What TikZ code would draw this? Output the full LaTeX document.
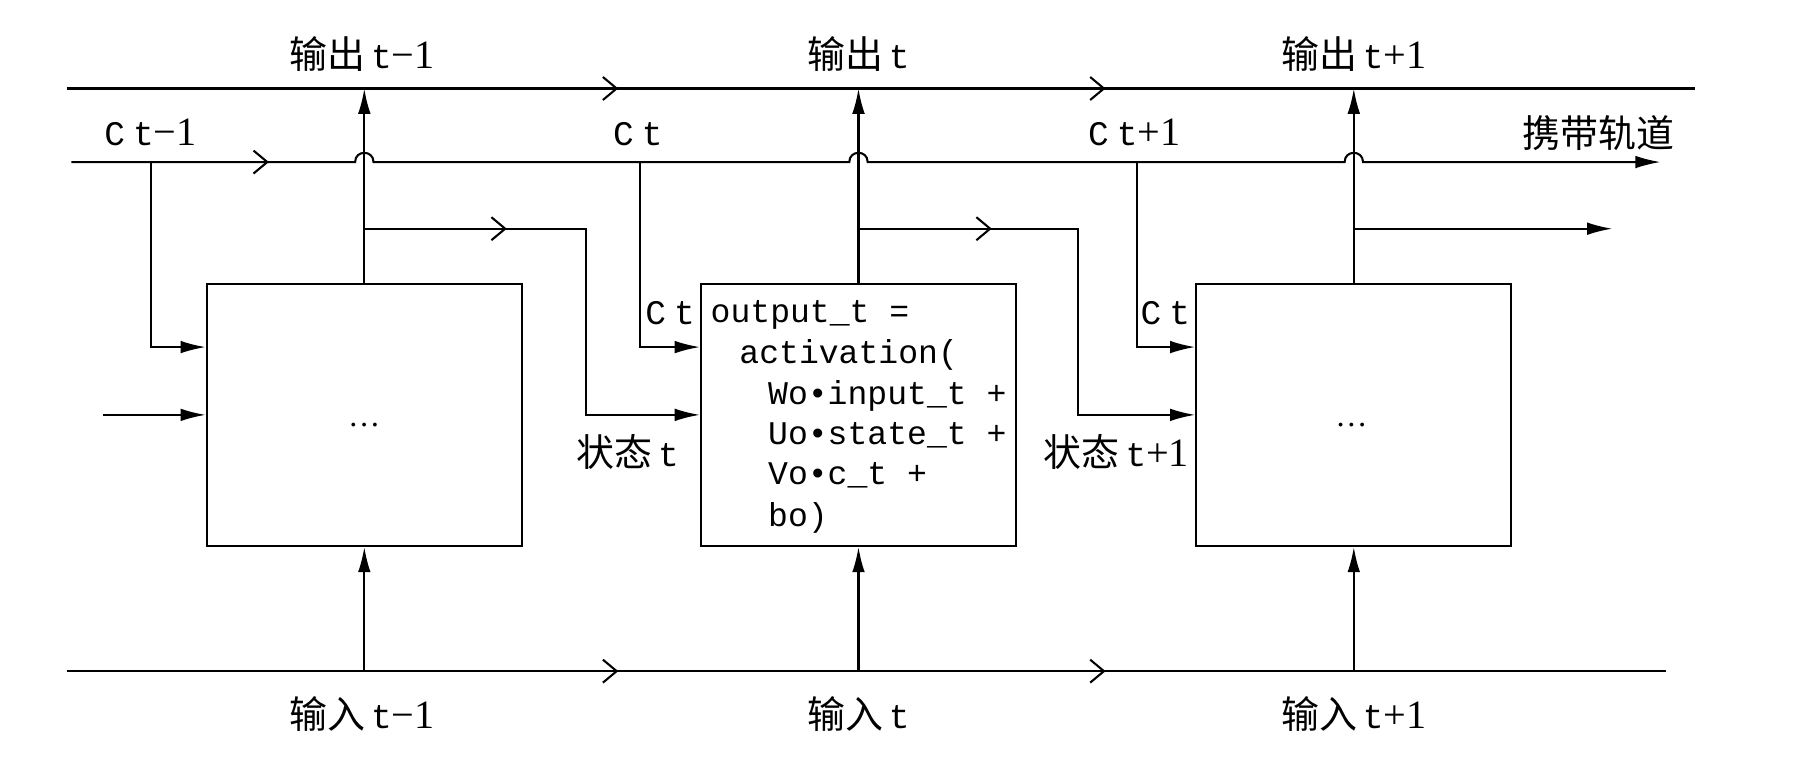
\documentclass[tikz,border=0pt]{standalone}
\usepackage{fontspec}
\setmainfont{Liberation Serif}
\newfontfamily\cjk{Noto Sans CJK SC}
\newfontfamily\mono{Liberation Mono}
\usetikzlibrary{arrows.meta,decorations.markings}
\newcommand{\tlab}[1]{{\mono\fontsize{15}{18}\selectfont t}{\fontsize{17.5}{18}\selectfont #1}}
\newcommand{\zh}[1]{{\cjk\fontsize{16.5}{18}\selectfont #1}}
\newcommand{\ct}{{\mono\fontsize{15}{18}\selectfont C\kern3.5pt t}}
\tikzset{
  ln/.style={line width=0.9pt},
  fa/.style={-{Latex[length=11pt,width=5.5pt]}},
  box/.style={draw, line width=0.9pt, minimum width=137pt, minimum height=114pt, inner sep=0pt},
  chevone/.style={postaction={decorate}, decoration={markings,
      mark=at position #1 with {\arrow{Straight Barb[length=6pt,width=10pt]}}}},
  chevtwo/.style 2 args={postaction={decorate}, decoration={markings,
      mark=at position #1 with {\arrow{Straight Barb[length=6pt,width=10pt]}},
      mark=at position #2 with {\arrow{Straight Barb[length=6pt,width=10pt]}}}},
  lbl/.style={font=\fontsize{15}{18}\selectfont, inner sep=0pt, anchor=base},
  lble/.style={font=\fontsize{15}{18}\selectfont, inner sep=0pt, anchor=base east},
  codeline/.style={font=\mono\fontsize{14.4}{18}\selectfont, inner sep=0pt, anchor=base west},
}
\begin{document}
\begin{tikzpicture}[x=0.5pt,y=-0.5pt]
\useasboundingbox (0,0) rectangle (1568,669);
% boxes
\node[box] (b1) at (317,361) {};
\node[box] (b2) at (747,361) {};
\node[box] (b3) at (1178,361) {};
\node[font=\fontsize{14}{14}\selectfont, inner sep=0pt] (d1) at (317,370) {…};
\node[font=\fontsize{14}{14}\selectfont, inner sep=0pt] (d3) at (1176,370) {…};
% code
\node[codeline] (c1) at (618,281) {output\_t =};
\node[codeline] (c2) at (643,316) {activation(};
\node[codeline] (c3) at (668,352) {Wo•input\_t +};
\node[codeline] (c4) at (668,387) {Uo•state\_t +};
\node[codeline] (c5) at (668,422) {Vo•c\_t +};
\node[codeline] (c6) at (668,458) {bo)};
% coordinates
\coordinate (os) at (58,77);
\coordinate (oe) at (1475,77);
\coordinate (is) at (58,584);
\coordinate (ie) at (1450,584);
\coordinate (cs) at (62,141);
\coordinate (ce) at (1445,141);
\coordinate (o1) at (317,77);
\coordinate (o2) at (747,77);
\coordinate (o3) at (1178,77);
\coordinate (i1) at (317,584);
\coordinate (i2) at (747,584);
\coordinate (i3) at (1178,584);
\coordinate (lin) at (90,361);
\coordinate (s3e) at (1403,199);
% output and input lines
\draw[ln, chevtwo={240pt}{452pt}] (os) -- (oe);
\draw[ln, chevtwo={240pt}{452pt}] (is) -- (ie);
% carry line with hops
\draw[ln, fa, chevone=86pt] (cs) -- (309,141) .. controls (309,130.3) and (325,130.3) .. (325,141)
  -- (739,141) .. controls (739,130.3) and (755,130.3) .. (755,141)
  -- (1170,141) .. controls (1170,130.3) and (1186,130.3) .. (1186,141) -- (ce);
% outputs
\draw[ln, fa] (b1.north) -- (o1);
\draw[ln, fa] (b2.north) -- (o2);
\draw[ln, fa] (b3.north) -- (o3);
% inputs
\draw[ln, fa] (i1) -- (b1.south);
\draw[ln, fa] (i2) -- (b2.south);
\draw[ln, fa] (i3) -- (b3.south);
% c branches
\draw[ln, fa] (131,141) |- (b1.west |- 0,302);
\draw[ln, fa] (557,141) |- (b2.west |- 0,302);
\draw[ln, fa] (989,141) |- (b3.west |- 0,302);
% state lines
\draw[ln, fa] (lin) -- (b1.west);
\draw[ln, fa, chevone=62pt] (317,199) -- (510,199) -- (510,361) -- (b2.west);
\draw[ln, fa, chevone=58pt] (747,199) -- (938,199) -- (938,361) -- (b3.west);
\draw[ln, fa] (1178,199) -- (s3e);
% labels
\node[lbl] (lo1) at (315,60) {\zh{输出}\,\tlab{−1}};
\node[lbl] (lo2) at (747,60) {\zh{输出}\,\tlab{}};
\node[lbl] (lo3) at (1178,60) {\zh{输出}\,\tlab{+1}};
\node[lbl] (li1) at (315,634) {\zh{输入}\,\tlab{−1}};
\node[lbl] (li2) at (747,634) {\zh{输入}\,\tlab{}};
\node[lbl] (li3) at (1178,634) {\zh{输入}\,\tlab{+1}};
\node[lbl] (lc1) at (131,127) {\ct{\fontsize{17.5}{18}\selectfont −1}};
\node[lbl] (lc2) at (555,127) {\ct};
\node[lbl] (lc3) at (987,127) {\ct{\fontsize{17.5}{18}\selectfont +1}};
\node[lbl] (lcar) at (1391,128) {\zh{携带轨道}};
\node[lble] (lcb2) at (605,282) {\ct};
\node[lble] (lcb3) at (1036,282) {\ct};
\node[lble] (ls2) at (591,406) {\zh{状态}\,\tlab{}};
\node[lble] (ls3) at (1035,406) {\zh{状态}\,\tlab{+1}};
\end{tikzpicture}
\end{document}
